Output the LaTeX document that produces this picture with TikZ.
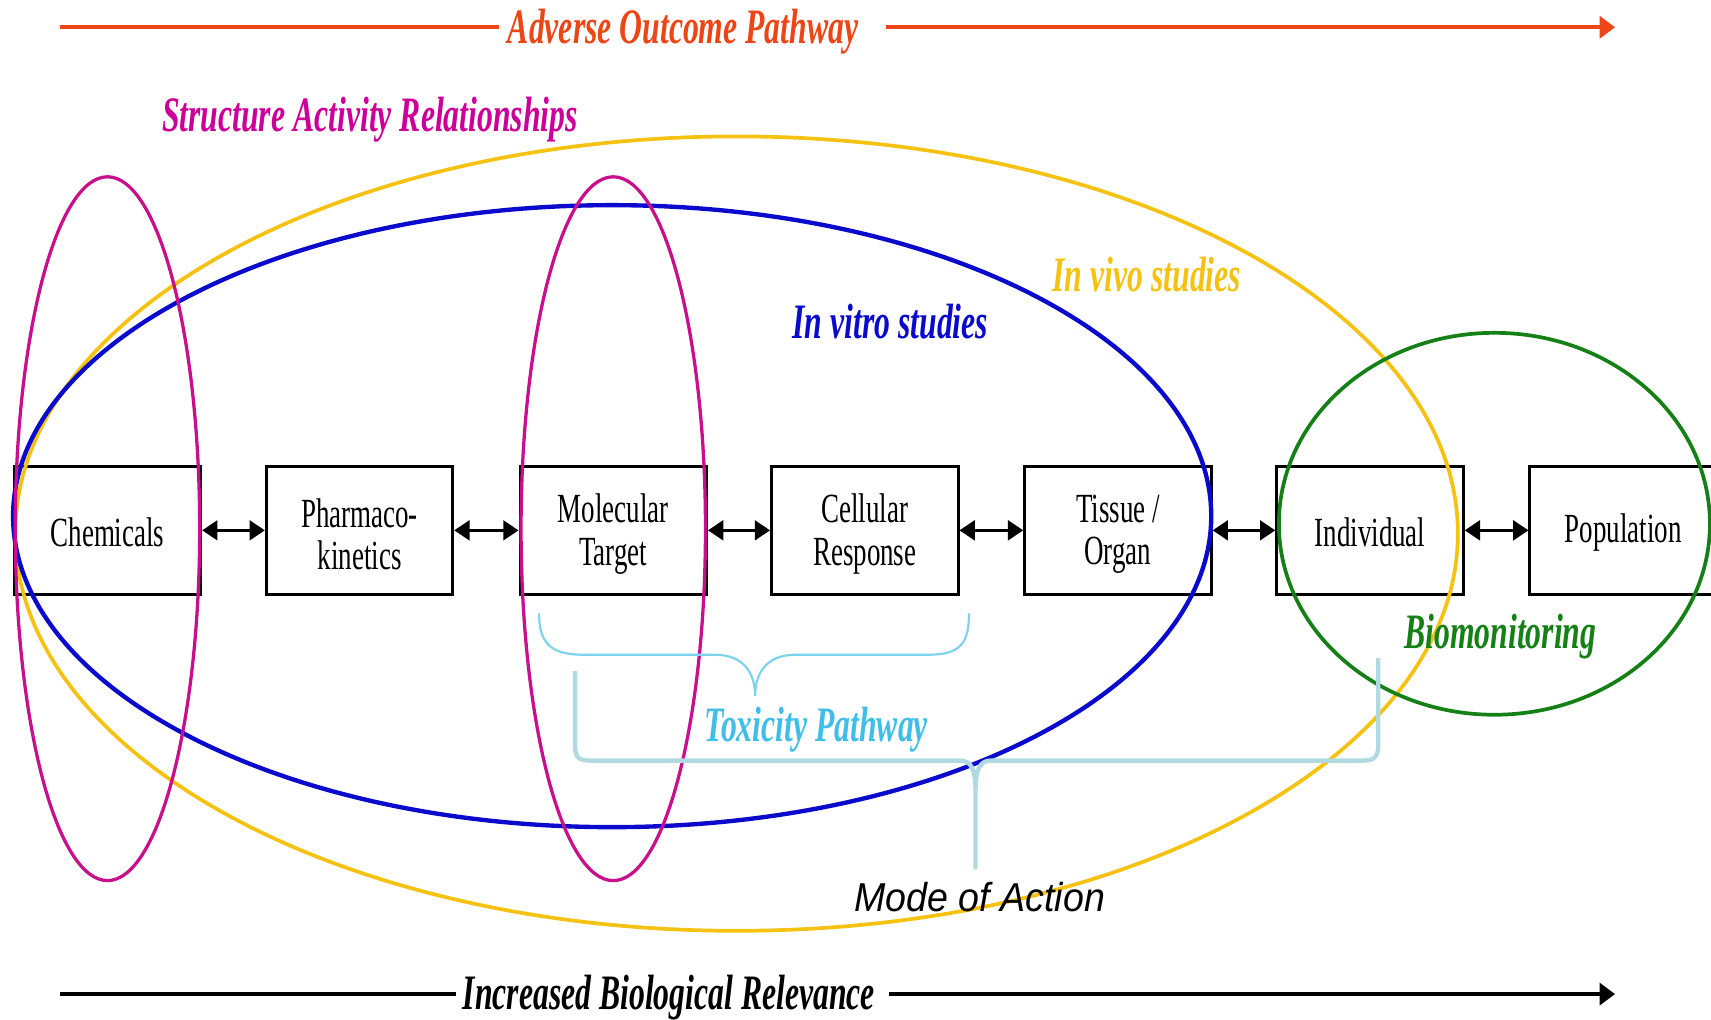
\documentclass[tikz,border=0pt]{standalone}
\usepackage{fontspec}
\setmainfont{Liberation Serif}
\newfontfamily\condserif[FakeStretch=0.65]{Liberation Serif}
\newfontfamily\condtitle[FakeStretch=0.64]{Liberation Serif}
\newfontfamily\moafont[FakeStretch=0.93]{Liberation Sans}
\usetikzlibrary{arrows.meta}
\definecolor{aopred}{RGB}{236,70,22}
\definecolor{sarmag}{RGB}{204,0,153}
\definecolor{ellmag}{RGB}{200,16,140}
\definecolor{vivogold}{RGB}{245,194,17}
\definecolor{vitroblue}{RGB}{10,10,205}
\definecolor{biogreen}{RGB}{21,128,21}
\definecolor{toxcyan}{RGB}{64,190,232}
\definecolor{toxbrace}{RGB}{125,210,236}
\definecolor{moabrace}{RGB}{176,218,223}
\begin{document}
\begin{tikzpicture}[x=0.5pt,y=-0.5pt,
  stagebox/.style={draw=black, line width=1.3pt, minimum width=85.5pt, minimum height=58.5pt,
    inner sep=0pt},
  boxtext/.style={inner sep=0pt, align=center, yshift=-1.8pt,
    font=\condserif\fontsize{19}{19.5}\selectfont},
  boxtextone/.style={boxtext, yshift=1pt},
  lbl/.style={font=\condtitle\bfseries\itshape\fontsize{22.7}{24}\selectfont, inner sep=0pt},
  dbl/.style={{Triangle[length=7pt,width=9pt]}-{Triangle[length=7pt,width=9pt]}, line width=1.4pt},
  bigarrow/.style={line width=1.6pt, -{Triangle[length=7pt,width=10pt]}},
  ell/.style={line width=1.5pt}]
\path[use as bounding box] (0,0) rectangle (1568,934);
\clip (0,0) rectangle (1568,934);

% stage boxes
\node[stagebox, label={[boxtextone]center:Chemicals}] (chem) at (98.5,486) {};
\node[stagebox, label={[boxtext]center:Pharmaco-\\kinetics}] (pk) at (329.5,486) {};
\node[stagebox, label={[boxtext]center:Molecular\\Target}] (mol) at (562,486) {};
\node[stagebox, label={[boxtext]center:Cellular\\Response}] (cell) at (792.5,486) {};
\node[stagebox, label={[boxtext]center:Tissue /\\Organ}] (tis) at (1024.5,486) {};
\node[stagebox, label={[boxtextone]center:Individual}] (ind) at (1255.5,486) {};
\node[stagebox, label={[boxtextone]center:Population}] (pop) at (1487.5,486) {};

\draw[dbl] (chem) -- (pk);
\draw[dbl] (pk) -- (mol);
\draw[dbl] (mol) -- (cell);
\draw[dbl] (cell) -- (tis);
\draw[dbl] (tis) -- (ind);
\draw[dbl] (ind) -- (pop);

% ellipses
\draw[ell, vivogold, line width=1.7pt] (675,489) ellipse [x radius=661, y radius=364];
\draw[ell, vitroblue, line width=2pt] (561,473) ellipse [x radius=549, y radius=285];
\draw[ell, ellmag] (98.5,484.5) ellipse [x radius=84.5, y radius=322.5];
\draw[ell, ellmag] (562,484.5) ellipse [x radius=84.5, y radius=322.5];
\draw[ell, biogreen, line width=1.7pt] (1369.5,480) ellipse [x radius=197.5, y radius=175];

% braces
\draw[toxbrace, line width=1pt] (494,562) .. controls (494,590) and (505,600) .. (535,600)
  -- (655,600) .. controls (680,600) and (692,615) .. (692,638)
  .. controls (692,615) and (704,600) .. (729,600)
  -- (850,600) .. controls (880,600) and (888,590) .. (888,562);
\draw[moabrace, line width=2pt, line join=round] (527,615) -- (527,683)
  .. controls (527,694) and (530,697) .. (541,697)
  -- (880,697) .. controls (890,697) and (894,705) .. (894,725) -- (894,795)
  -- (894,725) .. controls (894,705) and (898,697) .. (908,697)
  -- (1249,697) .. controls (1260,697) and (1263,693) .. (1263,683) -- (1263,603);

% labels
\node[lbl, text=aopred] (aop) at (626,29) {Adverse Outcome Pathway};
\node[lbl, text=sarmag] (sar) at (339,110) {Structure Activity Relationships};
\node[lbl, text=vivogold] (vivo) at (1051,252) {In vivo studies};
\node[lbl, text=vitroblue] (vitro) at (816,295) {In vitro studies};
\node[lbl, text=biogreen] (bio) at (1375,583) {Biomonitoring};
\node[lbl, text=toxcyan] (tox) at (748,669) {Toxicity Pathway};
\node[inner sep=0pt, font=\moafont\itshape\fontsize{18.5}{20}\selectfont] (moa) at (898,822) {Mode of Action};
\node[lbl, text=black] (ibr) at (613,914) {Increased Biological Relevance};

% top and bottom arrows
\coordinate (aopS) at (55,25);
\coordinate (aopL) at (457,25);
\coordinate (aopR) at (812,25);
\coordinate (aopE) at (1480,25);
\draw[aopred, line width=1.8pt] (aopS) -- (aopL);
\draw[bigarrow, aopred, line width=1.8pt] (aopR) -- (aopE);

\coordinate (ibrS) at (55,911);
\coordinate (ibrL) at (418,911);
\coordinate (ibrR) at (815,911);
\coordinate (ibrE) at (1480,911);
\draw[black, line width=1.6pt] (ibrS) -- (ibrL);
\draw[bigarrow, black] (ibrR) -- (ibrE);
\end{tikzpicture}
\end{document}
